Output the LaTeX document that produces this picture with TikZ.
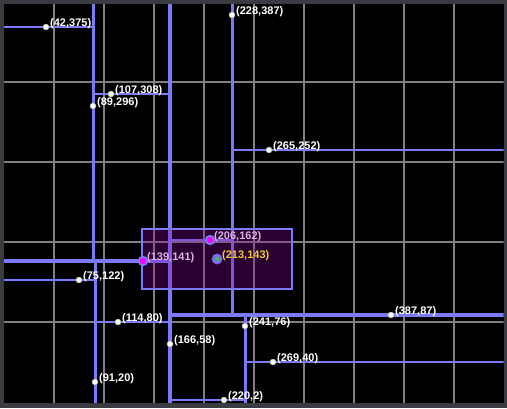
\documentclass[tikz,border=0pt]{standalone}
\usepackage{fontspec}
\setmainfont{Liberation Sans}
\definecolor{kdblue}{RGB}{122,122,250}
\definecolor{gridgrey}{RGB}{128,128,128}
\definecolor{frame}{RGB}{58,60,66}
\definecolor{rangefill}{RGB}{140,0,160}
\definecolor{hitcore}{RGB}{255,0,255}
\definecolor{querycore}{RGB}{60,185,90}
\definecolor{queryring}{RGB}{125,105,235}
\definecolor{querytext}{RGB}{240,200,50}
\begin{document}
\begin{tikzpicture}[x=1pt,y=1pt,
  splitline/.style={draw=kdblue},
  gridline/.style={draw=gridgrey,line width=1.3pt},
  dot/.style={circle,fill=white,draw=black!35,line width=0.4pt,inner sep=0pt,minimum size=6pt},
  hit/.style={circle,fill=hitcore,draw=kdblue,line width=1.8pt,inner sep=0pt,minimum size=8.5pt},
  querydot/.style={circle,fill=querycore,draw=queryring,line width=2.6pt,inner sep=0pt,minimum size=8pt},
  ptlabel/.style={anchor=west,inner sep=0pt,text=white,font=\fontsize{11}{13}\selectfont\bfseries},
]

\useasboundingbox (0,0) rectangle (507,408);
\fill[frame] (0,0) rectangle (507,408);
\fill[black] (4,5) rectangle (503.5,404);

\begin{scope}[shift={(4pt,6pt)}]
\clip (0,-1) rectangle (499.5,398);

\foreach \gx in {50,100,...,450}
  \draw[gridline] (\gx,-1) -- (\gx,398);
\foreach \gy in {80,160,240,320}
  \draw[gridline] (0,\gy) -- (499.5,\gy);

\draw[splitline,line width=4.8pt] (166,-1) -- (166,398);
\draw[splitline,line width=4pt] (0,141) -- (166,141);
\draw[splitline,line width=4pt] (166,87) -- (500,87);
\draw[splitline,line width=3pt] (89,141) -- (89,398);
\draw[splitline,line width=3pt] (91,-1) -- (91,141);
\draw[splitline,line width=3pt] (228,87) -- (228,398);
\draw[splitline,line width=3pt] (241,-1) -- (241,87);
\foreach \xa/\xb/\yy in {0/89/375,89/166/308,0/91/122,91/166/80,166/228/162,228/500/252,166/241/2,241/500/40}
  \draw[splitline,line width=2pt] (\xa,\yy) -- (\xb,\yy);

\foreach \px/\py [count=\i] in {42/375,107/308,89/296,228/387,265/252,75/122,114/80,166/58,241/76,387/87,269/40,91/20,220/2} {
  \node[dot] (p\i) at (\px,\py) {};
  \node[ptlabel] (l\i) at (\px+4,\py+3) {(\px,\py)};
}
\node[ptlabel] (lh1) at (143,144) {(139,141)};
\node[ptlabel] (lh2) at (210,165) {(206,162)};

\draw[kdblue,line width=1.5pt,fill=rangefill,fill opacity=0.3] (138,113) rectangle (288,173);

\node[hit] (h1) at (139,141) {};
\node[hit] (h2) at (206,162) {};
\node[querydot] (q) at (213,143) {};
\node[ptlabel,text=querytext] (lq) at (218,146) {(213,143)};
\end{scope}

\end{tikzpicture}
\end{document}
